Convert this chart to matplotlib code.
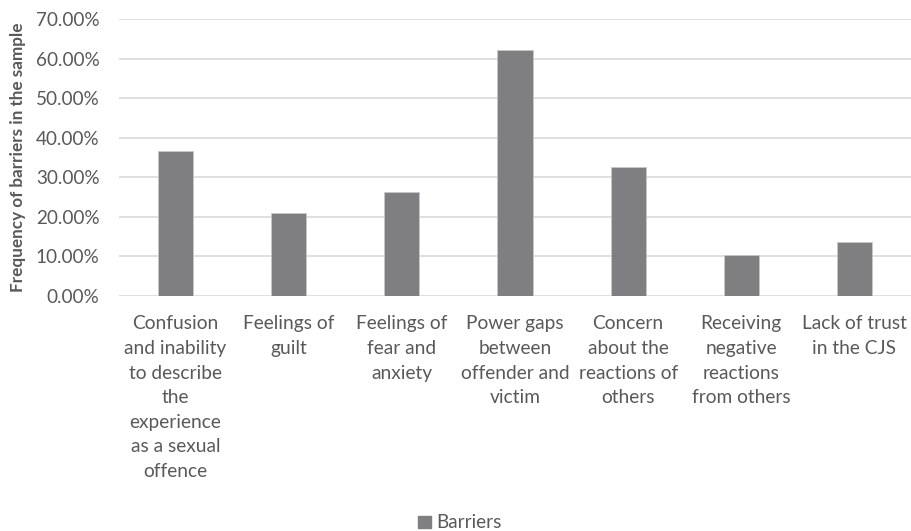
import matplotlib
matplotlib.use("Agg")
import matplotlib.pyplot as plt
from matplotlib.ticker import FuncFormatter
from matplotlib.patches import Patch

categories = [
    "Confusion\nand inability\nto describe\nthe\nexperience\nas a sexual\noffence",
    "Feelings of\nguilt",
    "Feelings of\nfear and\nanxiety",
    "Power gaps\nbetween\noffender and\nvictim",
    "Concern\nabout the\nreactions of\nothers",
    "Receiving\nnegative\nreactions\nfrom others",
    "Lack of trust\nin the CJS",
]
values = [36.7, 21.1, 26.2, 62.1, 32.6, 10.4, 13.6]
yticks = [0, 10, 20, 30, 40, 50, 60, 70]
series_name = "Barriers"

plt.rcParams['font.family'] = ['Lato', 'DejaVu Sans']
text_color = "#595959"
bar_color = "#7f7f82"
grid_color = "#d9d9d9"

fig = plt.figure(figsize=(9.11, 5.31), dpi=100)
ax = fig.add_axes([119/911, 1 - 296/531, 1 - 119/911, (296 - 19)/531])

x = list(range(len(categories)))
ax.bar(x, values, width=0.31, color=bar_color, edgecolor="#c8c8c8", linewidth=0.6, zorder=3)
ax.set_xlim(-0.5, len(categories) - 0.5)
ax.set_ylim(0, 70)
ax.set_yticks(yticks)
ax.yaxis.set_major_formatter(FuncFormatter(lambda v, p: f"{v:.2f}%"))
ax.grid(axis="y", color=grid_color, linewidth=1.2, zorder=0)
for s in ax.spines.values():
    s.set_visible(False)
ax.tick_params(axis="both", length=0, colors=text_color, labelsize=13.6)
ax.tick_params(axis="y", pad=14)
ax.set_xticks(x)
ax.set_xticklabels(categories, linespacing=1.54, va="top", fontsize=13.8)
ax.tick_params(axis="x", pad=14)

ax.set_ylabel("Frequency of barriers in the sample", fontsize=12.3, fontweight="bold",
              color=text_color)
ax.yaxis.set_label_coords(-0.118, 0.5)

handle = Patch(facecolor=bar_color, edgecolor=bar_color)
fig.legend([handle], [series_name], loc="center", bbox_to_anchor=(460/911, 1 - 523/531),
           frameon=False, fontsize=13.6, labelcolor=text_color, handlelength=0.65,
           handleheight=0.65, handletextpad=0.3)

fig.savefig("out.png", dpi=100)
